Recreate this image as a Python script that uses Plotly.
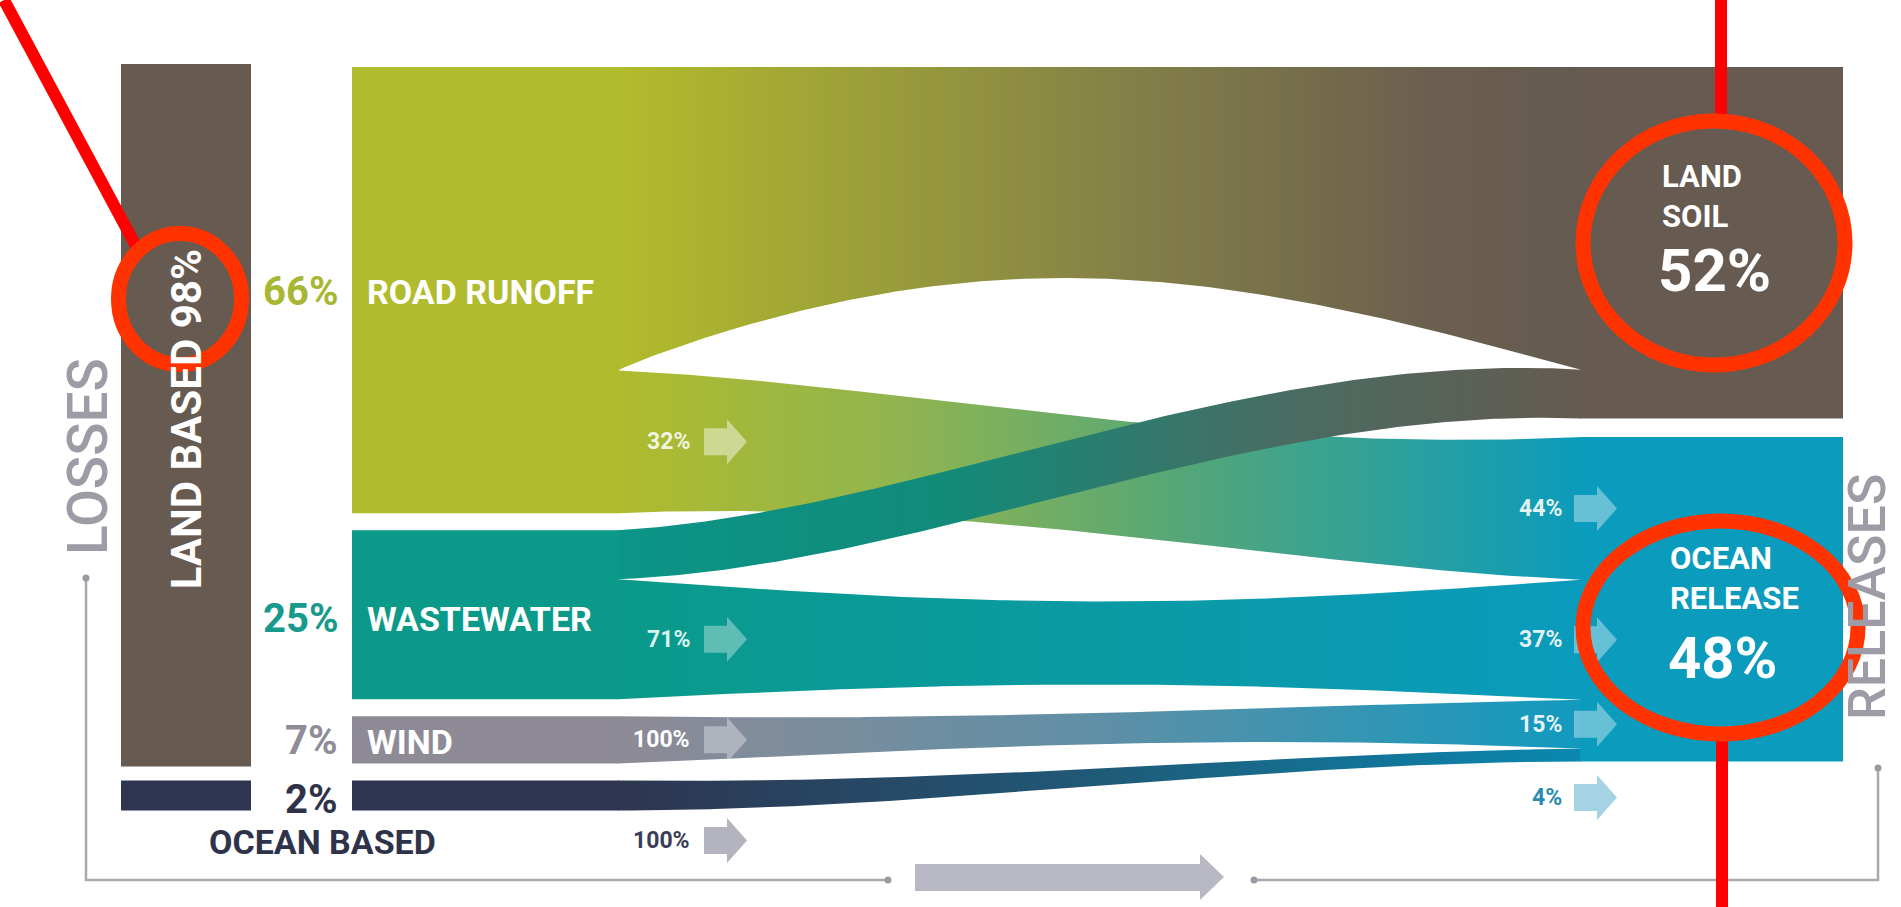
import numpy as np
import plotly.graph_objects as go

# ---------------- data ----------------
source_names = ["ROAD RUNOFF", "WASTEWATER", "WIND", "OCEAN BASED"]
source_share = [66, 25, 7, 2]            # % of total losses
to_ocean_pct = [32, 71, 100, 100]        # % of each source released to ocean
target_names = ["LAND<br>SOIL", "OCEAN<br>RELEASE"]
target_share = [52, 48]                  # % of total releases
ocean_mix_pct = [44, 37, 15, 4]          # composition of the ocean release
land_based_pct = 98
group_labels = ["LOSSES", "RELEASES"]

# ---------------- style / layout ----------------
W, H = 1901, 907
PX = 6.76            # pixels per percent
TOP = 67
SRC_GAP = 17
TGT_GAP = 18.5
MIN_NODE = 30
SRC_X0, SRC_X1 = 352, 618
TGT_X0, TGT_X1 = 1581, 1843
BAR_X0, BAR_X1 = 121, 251
FONT = "Roboto"

node_colors = ["#b0bb2d", "#0b9989", "#8e8b96", "#2e3550"]
pct_colors = ["#a8b733", "#17998b", "#8f8c97", "#2e3349"]
soil_color = "#665a51"
ocean_color = "#0b9bbd"

flow_grad = {
    (0, 0): [[0, "#b2bc2b"], [0.5, "#868347"], [0.85, "#6a5f4f"], [1, "#655a50"]],
    (0, 1): [[0, "#b0bb2d"], [0.3, "#8fb450"], [0.6, "#52a67a"], [1, "#0b9bbb"]],
    (1, 0): [[0, "#0b9588"], [0.35, "#128a79"], [0.7, "#4a6c62"], [1, "#655a50"]],
    (1, 1): [[0, "#0a9a8a"], [1, "#0a9bbd"]],
    (2, 1): [[0, "#8e8b96"], [0.5, "#5f8fa6"], [1, "#119abf"]],
    (3, 1): [[0, "#2e3550"], [0.5, "#1f5a78"], [1, "#0a88b0"]],
}
# inward pinch of (top, bottom) edges in the middle of each band, and skew of the bulge
pinch = {(0, 0): (0, 92), (0, 1): (15, 13), (1, 0): (-18, 12),
         (1, 1): (22, 15), (2, 1): (5, 12), (3, 1): (4, 0)}
skew = {(0, 0): 0.9}
draw_order = [(0, 0), (0, 1), (1, 1), (2, 1), (3, 1), (1, 0)]

# ---------------- geometry from data ----------------
src_nodes = []
y = TOP
for s in source_share:
    h = max(s * PX, MIN_NODE)
    src_nodes.append((y, y + h))
    y += h + SRC_GAP

tgt_nodes = []
y = TOP
for s in target_share:
    tgt_nodes.append((y, y + s * PX))
    y += s * PX + TGT_GAP

# source side segments
src_seg = {}
for i, (y0, y1) in enumerate(src_nodes):
    frac_soil = 1 - to_ocean_pct[i] / 100
    ym = y0 + (y1 - y0) * frac_soil
    if frac_soil > 0:
        src_seg[(i, 0)] = (y0, ym)
    src_seg[(i, 1)] = (ym, y1)

# target side segments
tgt_seg = {}
soil_amt = [source_share[i] * (1 - to_ocean_pct[i] / 100) for i in range(4)]
tot = sum(soil_amt)
y0, y1 = tgt_nodes[0]
yy = y0
for i in range(4):
    if soil_amt[i] > 0:
        h = (y1 - y0) * soil_amt[i] / tot
        tgt_seg[(i, 0)] = (yy, yy + h)
        yy += h
y0, y1 = tgt_nodes[1]
yy = y0
for i in range(4):
    h = (y1 - y0) * ocean_mix_pct[i] / 100
    tgt_seg[(i, 1)] = (yy, yy + h)
    yy += h


def band(x0, x1, a0, b0, a1, b1, pt, pb, p=1.0, n=200):
    t = np.linspace(0, 1, n)
    s = t * t * (3 - 2 * t)
    bump = np.sin(np.pi * t ** p)
    x = x0 + (x1 - x0) * t
    top = a0 + (a1 - a0) * s + pt * bump
    bot = b0 + (b1 - b0) * s - pb * bump
    xs = np.concatenate([x, x[::-1], [x[0]]])
    ys = np.concatenate([top, bot[::-1], [top[0]]])
    return xs, ys


def rect(x0, x1, y0, y1):
    return [x0, x1, x1, x0, x0], [y0, y0, y1, y1, y0]


def arrow(xl, yc, bw=23, hw=20, bh=27, hh=45):
    xs = [xl, xl + bw, xl + bw, xl + bw + hw, xl + bw, xl + bw, xl, xl]
    ys = [yc - bh / 2, yc - bh / 2, yc - hh / 2, yc, yc + hh / 2, yc + bh / 2, yc + bh / 2, yc - bh / 2]
    return xs, ys


fig = go.Figure()


def poly(xs, ys, color=None, grad=None):
    kw = dict(x=list(xs), y=list(ys), mode="lines", fill="toself",
              line=dict(width=0, color="rgba(0,0,0,0)"), hoverinfo="skip", showlegend=False)
    if grad is not None:
        kw["fillgradient"] = dict(type="horizontal", colorscale=grad)
    else:
        kw["fillcolor"] = color
    fig.add_trace(go.Scatter(**kw))


# flows
for key in draw_order:
    a0, b0 = src_seg[key]
    a1, b1 = tgt_seg[key]
    pt, pb = pinch[key]
    xs, ys = band(SRC_X1, TGT_X0, a0, b0, a1, b1, pt, pb, skew.get(key, 1.0))
    poly(xs, ys, grad=flow_grad[key])

# source nodes
for i, (y0, y1) in enumerate(src_nodes):
    xs, ys = rect(SRC_X0, SRC_X1 + 1, y0, y1)
    poly(xs, ys, node_colors[i])

# land-based bar and ocean-based bar
xs, ys = rect(BAR_X0, BAR_X1, src_nodes[0][0] - 3, src_nodes[2][1] + 3)
poly(xs, ys, soil_color)
xs, ys = rect(BAR_X0, BAR_X1, src_nodes[3][0], src_nodes[3][1])
poly(xs, ys, node_colors[3])

# target nodes
for j, (y0, y1) in enumerate(tgt_nodes):
    xs, ys = rect(TGT_X0 - 1, TGT_X1, y0, y1)
    poly(xs, ys, [soil_color, ocean_color][j])

annotations = []


def txt(x, y, text, size, color, xanchor="center", angle=0, bold=True, weight=None, align="center"):
    f = dict(family=FONT, size=size, color=color)
    if weight:
        f["weight"] = weight
    annotations.append(dict(x=x, y=y, xref="x", yref="y", text=("<b>%s</b>" % text) if bold else text,
                            showarrow=False, xanchor=xanchor, yanchor="middle", align=align,
                            textangle=angle, font=f))


# left arrows (share of each source going to the ocean)
left_arrow_cols = ["rgba(255,255,255,0.45)", "rgba(255,255,255,0.35)", "rgba(255,255,255,0.35)", "#b4b3c0"]
left_txt_cols = ["rgba(255,255,255,0.85)", "#d8f4f0", "#ffffff", "#383d55"]
for i in range(4):
    a, b = src_seg[(i, 1)]
    yc = (a + b) / 2 if i < 3 else src_nodes[3][1] + 30
    xs, ys = arrow(704, yc)
    poly(xs, ys, left_arrow_cols[i])
    txt(692, yc, "%d%%" % to_ocean_pct[i], 23, left_txt_cols[i], xanchor="right")

# right arrows (composition of ocean release)
for i in range(4):
    a, b = tgt_seg[(i, 1)]
    yc = (a + b) / 2 if i < 3 else tgt_nodes[1][1] + 36
    col = "rgba(255,255,255,0.38)" if i < 3 else "#a4d3e4"
    xs, ys = arrow(1574, yc)
    poly(xs, ys, col)
    txt(1564, yc, "%d%%" % ocean_mix_pct[i], 23,
        "rgba(255,255,255,0.9)" if i < 3 else "#2a8cae", xanchor="right")

# bracket lines
fig.add_trace(go.Scatter(x=[86, 86, 888], y=[578, 880, 880], mode="lines",
                         line=dict(color="#a9a9b0", width=2.5), hoverinfo="skip", showlegend=False))
fig.add_trace(go.Scatter(x=[1254, 1878, 1878], y=[880, 880, 768], mode="lines",
                         line=dict(color="#a9a9b0", width=2.5), hoverinfo="skip", showlegend=False))
fig.add_trace(go.Scatter(x=[86, 888, 1254, 1878], y=[578, 880, 880, 768], mode="markers",
                         marker=dict(color="#9a9aa2", size=7), hoverinfo="skip", showlegend=False))
# big bottom arrow
xs = [915, 1200, 1200, 1224, 1200, 1200, 915, 915]
ys = [864, 864, 854, 877, 900, 891, 891, 864]
poly(xs, ys, "#b8b8c4")

# source labels
for i in range(4):
    y0, y1 = src_nodes[i]
    yc = (y0 + y1) / 2
    txt(340, yc + (4 if i in (1, 3) else 1), "%d%%" % source_share[i], 40, pct_colors[i], xanchor="right")
    if i < 3:
        txt(365, yc + (4 if i == 1 else 2), source_names[i], 34, "#ffffff", xanchor="left")
txt(322, src_nodes[3][1] + 32, source_names[3], 34, pct_colors[3])

txt((BAR_X0 + BAR_X1) / 2, (src_nodes[0][0] + src_nodes[2][1]) / 2 + 4,
    "LAND BASED %d%%" % land_based_pct, 42, "#ffffff", angle=-90)
txt(88, 457, group_labels[0], 55, "#9d9ca6", angle=-90, bold=False, weight=500)
txt(1867, 597, group_labels[1], 52, "#9d9ca6", angle=-90, bold=False, weight=500)

# target labels
txt(1660, 196, target_names[0], 31, "#ffffff", xanchor="left", align="left")
txt(1656, 270, "%d%%" % target_share[0], 60, "#ffffff", xanchor="left")
txt(1668, 578, target_names[1], 31, "#ffffff", xanchor="left", align="left")
txt(1666, 658, "%d%%" % target_share[1], 58, "#ffffff", xanchor="left")

# red highlight marks
shapes = [
    dict(type="line", x0=4, y0=0, x1=137, y1=248, line=dict(color="#ff0000", width=12), layer="above"),
    dict(type="circle", x0=118.5, x1=241.5, y0=233.5, y1=364.5, line=dict(color="#ff3300", width=15), layer="above"),
    dict(type="line", x0=1721, y0=0, x1=1721, y1=121, line=dict(color="#ff0000", width=12), layer="above"),
    dict(type="circle", x0=1583, x1=1845, y0=121, y1=365, line=dict(color="#ff3300", width=15), layer="above"),
    dict(type="line", x0=1722, y0=734, x1=1722, y1=907, line=dict(color="#ff0000", width=12), layer="above"),
    dict(type="circle", x0=1583, x1=1858, y0=521, y1=734, line=dict(color="#ff3300", width=15), layer="above"),
]

fig.update_layout(
    width=W, height=H,
    margin=dict(l=0, r=0, t=0, b=0),
    paper_bgcolor="white", plot_bgcolor="white",
    xaxis=dict(range=[0, W], visible=False, fixedrange=True),
    yaxis=dict(range=[H, 0], visible=False, fixedrange=True),
    annotations=annotations, shapes=shapes, showlegend=False,
)
fig.write_html("out.html")
